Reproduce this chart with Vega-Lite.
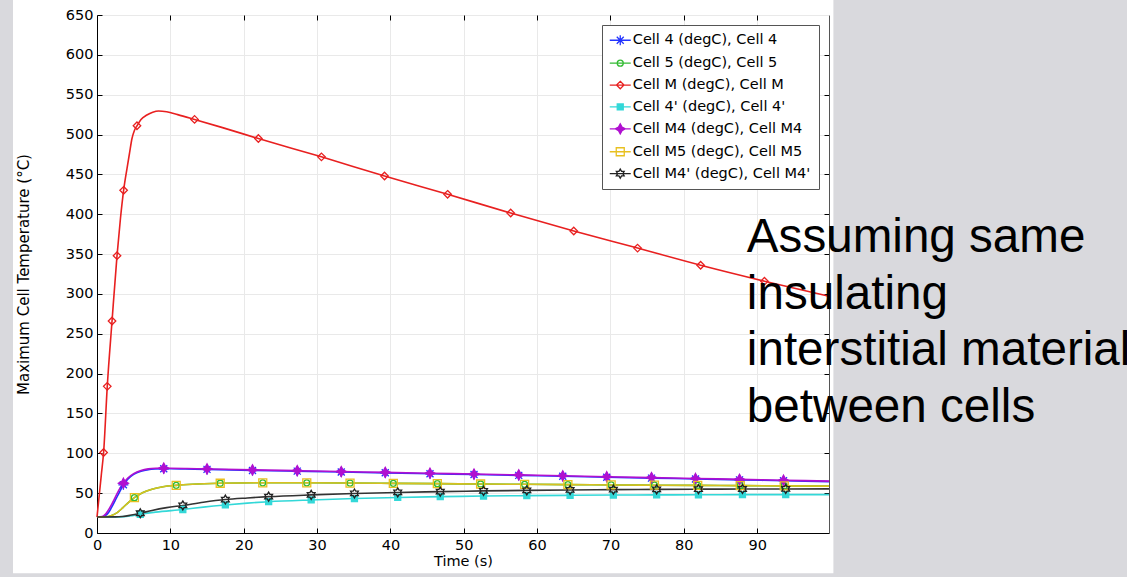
{
  "$schema": "https://vega.github.io/schema/vega-lite/v6.json",
  "width": 732,
  "height": 518,
  "autosize": {"type": "none"},
  "padding": {"left": 97, "top": 15, "right": 298, "bottom": 44},
  "background": "#ffffff",
  "config": {
    "view": {"stroke": "#555555", "strokeWidth": 1},
    "axis": {"labelFont": "DejaVu Sans", "titleFont": "DejaVu Sans", "labelColor": "#000", "titleColor": "#000", "titleFontWeight": "normal"}
  },
  "resolve": {"axis": {"x": "independent", "y": "independent"}},
  "datasets": {
    "curves": [
      {"s": "Cell 4 (degC), Cell 4", "t": 0, "v": 20}, {"s": "Cell 4 (degC), Cell 4", "t": 0.8, "v": 20.3}, {"s": "Cell 4 (degC), Cell 4", "t": 1.2, "v": 22}, {"s": "Cell 4 (degC), Cell 4", "t": 1.6, "v": 26}, {"s": "Cell 4 (degC), Cell 4", "t": 2.1, "v": 34}, {"s": "Cell 4 (degC), Cell 4", "t": 2.6, "v": 43}, {"s": "Cell 4 (degC), Cell 4", "t": 3.1, "v": 52}, {"s": "Cell 4 (degC), Cell 4", "t": 3.6, "v": 60.5}, {"s": "Cell 4 (degC), Cell 4", "t": 4.2, "v": 67.5}, {"s": "Cell 4 (degC), Cell 4", "t": 5, "v": 73.5}, {"s": "Cell 4 (degC), Cell 4", "t": 6, "v": 77.5}, {"s": "Cell 4 (degC), Cell 4", "t": 7, "v": 79.5}, {"s": "Cell 4 (degC), Cell 4", "t": 8, "v": 80.3}, {"s": "Cell 4 (degC), Cell 4", "t": 9.1, "v": 80.6}, {"s": "Cell 4 (degC), Cell 4", "t": 10, "v": 80.6}, {"s": "Cell 4 (degC), Cell 4", "t": 12, "v": 80.3}, {"s": "Cell 4 (degC), Cell 4", "t": 15, "v": 79.8}, {"s": "Cell 4 (degC), Cell 4", "t": 21.2, "v": 78.5}, {"s": "Cell 4 (degC), Cell 4", "t": 27.3, "v": 77.6}, {"s": "Cell 4 (degC), Cell 4", "t": 33.3, "v": 76.5}, {"s": "Cell 4 (degC), Cell 4", "t": 39.3, "v": 75.5}, {"s": "Cell 4 (degC), Cell 4", "t": 45.4, "v": 74.4}, {"s": "Cell 4 (degC), Cell 4", "t": 51.4, "v": 73.4}, {"s": "Cell 4 (degC), Cell 4", "t": 57.5, "v": 72.3}, {"s": "Cell 4 (degC), Cell 4", "t": 63.5, "v": 71.2}, {"s": "Cell 4 (degC), Cell 4", "t": 69.5, "v": 70}, {"s": "Cell 4 (degC), Cell 4", "t": 75.6, "v": 68.9}, {"s": "Cell 4 (degC), Cell 4", "t": 81.6, "v": 67.8}, {"s": "Cell 4 (degC), Cell 4", "t": 87.6, "v": 66.7}, {"s": "Cell 4 (degC), Cell 4", "t": 93.6, "v": 65.6}, {"s": "Cell 4 (degC), Cell 4", "t": 99.8, "v": 64.5},
      {"s": "Cell 5 (degC), Cell 5", "t": 0, "v": 20}, {"s": "Cell 5 (degC), Cell 5", "t": 1.2, "v": 20.3}, {"s": "Cell 5 (degC), Cell 5", "t": 2, "v": 22}, {"s": "Cell 5 (degC), Cell 5", "t": 2.8, "v": 26}, {"s": "Cell 5 (degC), Cell 5", "t": 3.5, "v": 31.5}, {"s": "Cell 5 (degC), Cell 5", "t": 4.3, "v": 38.5}, {"s": "Cell 5 (degC), Cell 5", "t": 5.1, "v": 44.3}, {"s": "Cell 5 (degC), Cell 5", "t": 6.2, "v": 50.5}, {"s": "Cell 5 (degC), Cell 5", "t": 7.5, "v": 55}, {"s": "Cell 5 (degC), Cell 5", "t": 9, "v": 58}, {"s": "Cell 5 (degC), Cell 5", "t": 10.8, "v": 59.8}, {"s": "Cell 5 (degC), Cell 5", "t": 13, "v": 61.2}, {"s": "Cell 5 (degC), Cell 5", "t": 16.8, "v": 62.4}, {"s": "Cell 5 (degC), Cell 5", "t": 22.6, "v": 63}, {"s": "Cell 5 (degC), Cell 5", "t": 28.6, "v": 63}, {"s": "Cell 5 (degC), Cell 5", "t": 34.5, "v": 62.7}, {"s": "Cell 5 (degC), Cell 5", "t": 40.4, "v": 62.3}, {"s": "Cell 5 (degC), Cell 5", "t": 46.4, "v": 61.9}, {"s": "Cell 5 (degC), Cell 5", "t": 52.3, "v": 61.5}, {"s": "Cell 5 (degC), Cell 5", "t": 58.3, "v": 61.1}, {"s": "Cell 5 (degC), Cell 5", "t": 64.2, "v": 60.7}, {"s": "Cell 5 (degC), Cell 5", "t": 70.1, "v": 60.3}, {"s": "Cell 5 (degC), Cell 5", "t": 76, "v": 60}, {"s": "Cell 5 (degC), Cell 5", "t": 81.9, "v": 59.7}, {"s": "Cell 5 (degC), Cell 5", "t": 87.7, "v": 59.4}, {"s": "Cell 5 (degC), Cell 5", "t": 93.7, "v": 59.1}, {"s": "Cell 5 (degC), Cell 5", "t": 99.8, "v": 58.8},
      {"s": "Cell M (degC), Cell M", "t": 0, "v": 20}, {"s": "Cell M (degC), Cell M", "t": 0.3, "v": 47}, {"s": "Cell M (degC), Cell M", "t": 0.6, "v": 74}, {"s": "Cell M (degC), Cell M", "t": 0.9, "v": 101}, {"s": "Cell M (degC), Cell M", "t": 1.4, "v": 184}, {"s": "Cell M (degC), Cell M", "t": 2.05, "v": 266}, {"s": "Cell M (degC), Cell M", "t": 2.73, "v": 348}, {"s": "Cell M (degC), Cell M", "t": 3.2, "v": 395}, {"s": "Cell M (degC), Cell M", "t": 3.63, "v": 430}, {"s": "Cell M (degC), Cell M", "t": 4.1, "v": 458}, {"s": "Cell M (degC), Cell M", "t": 4.44, "v": 477}, {"s": "Cell M (degC), Cell M", "t": 4.77, "v": 495}, {"s": "Cell M (degC), Cell M", "t": 5.1, "v": 505}, {"s": "Cell M (degC), Cell M", "t": 5.45, "v": 511}, {"s": "Cell M (degC), Cell M", "t": 6, "v": 519}, {"s": "Cell M (degC), Cell M", "t": 6.8, "v": 524.5}, {"s": "Cell M (degC), Cell M", "t": 7.6, "v": 528}, {"s": "Cell M (degC), Cell M", "t": 8.4, "v": 529.5}, {"s": "Cell M (degC), Cell M", "t": 9.5, "v": 528.5}, {"s": "Cell M (degC), Cell M", "t": 11, "v": 525}, {"s": "Cell M (degC), Cell M", "t": 13.3, "v": 519}, {"s": "Cell M (degC), Cell M", "t": 17, "v": 509}, {"s": "Cell M (degC), Cell M", "t": 22, "v": 495}, {"s": "Cell M (degC), Cell M", "t": 30.6, "v": 472}, {"s": "Cell M (degC), Cell M", "t": 39.2, "v": 448}, {"s": "Cell M (degC), Cell M", "t": 47.8, "v": 425}, {"s": "Cell M (degC), Cell M", "t": 56.4, "v": 401.5}, {"s": "Cell M (degC), Cell M", "t": 65, "v": 379}, {"s": "Cell M (degC), Cell M", "t": 73.7, "v": 357.5}, {"s": "Cell M (degC), Cell M", "t": 82.3, "v": 336}, {"s": "Cell M (degC), Cell M", "t": 91, "v": 316}, {"s": "Cell M (degC), Cell M", "t": 99.8, "v": 297},
      {"s": "Cell 4' (degC), Cell 4'", "t": 0, "v": 20}, {"s": "Cell 4' (degC), Cell 4'", "t": 3, "v": 20.2}, {"s": "Cell 4' (degC), Cell 4'", "t": 4.5, "v": 21.3}, {"s": "Cell 4' (degC), Cell 4'", "t": 5.9, "v": 23.5}, {"s": "Cell 4' (degC), Cell 4'", "t": 8, "v": 26.2}, {"s": "Cell 4' (degC), Cell 4'", "t": 11.7, "v": 29.5}, {"s": "Cell 4' (degC), Cell 4'", "t": 14.5, "v": 32.5}, {"s": "Cell 4' (degC), Cell 4'", "t": 17.5, "v": 35.2}, {"s": "Cell 4' (degC), Cell 4'", "t": 20.5, "v": 37.5}, {"s": "Cell 4' (degC), Cell 4'", "t": 23.4, "v": 39.3}, {"s": "Cell 4' (degC), Cell 4'", "t": 29.2, "v": 41.5}, {"s": "Cell 4' (degC), Cell 4'", "t": 35.1, "v": 43.2}, {"s": "Cell 4' (degC), Cell 4'", "t": 41, "v": 44.6}, {"s": "Cell 4' (degC), Cell 4'", "t": 46.8, "v": 45.6}, {"s": "Cell 4' (degC), Cell 4'", "t": 52.7, "v": 46.4}, {"s": "Cell 4' (degC), Cell 4'", "t": 58.6, "v": 46.9}, {"s": "Cell 4' (degC), Cell 4'", "t": 64.5, "v": 47.3}, {"s": "Cell 4' (degC), Cell 4'", "t": 70.4, "v": 47.6}, {"s": "Cell 4' (degC), Cell 4'", "t": 76.3, "v": 47.8}, {"s": "Cell 4' (degC), Cell 4'", "t": 82, "v": 48}, {"s": "Cell 4' (degC), Cell 4'", "t": 88, "v": 48.1}, {"s": "Cell 4' (degC), Cell 4'", "t": 93.9, "v": 48.2}, {"s": "Cell 4' (degC), Cell 4'", "t": 99.8, "v": 48.2},
      {"s": "Cell M4 (degC), Cell M4", "t": 0, "v": 20}, {"s": "Cell M4 (degC), Cell M4", "t": 0.7, "v": 20.5}, {"s": "Cell M4 (degC), Cell M4", "t": 1.1, "v": 23}, {"s": "Cell M4 (degC), Cell M4", "t": 1.5, "v": 28}, {"s": "Cell M4 (degC), Cell M4", "t": 2, "v": 36}, {"s": "Cell M4 (degC), Cell M4", "t": 2.5, "v": 45}, {"s": "Cell M4 (degC), Cell M4", "t": 3, "v": 54}, {"s": "Cell M4 (degC), Cell M4", "t": 3.6, "v": 62.5}, {"s": "Cell M4 (degC), Cell M4", "t": 4.2, "v": 69}, {"s": "Cell M4 (degC), Cell M4", "t": 5, "v": 74.5}, {"s": "Cell M4 (degC), Cell M4", "t": 6, "v": 78.5}, {"s": "Cell M4 (degC), Cell M4", "t": 7, "v": 80.5}, {"s": "Cell M4 (degC), Cell M4", "t": 8, "v": 81.2}, {"s": "Cell M4 (degC), Cell M4", "t": 9.1, "v": 81.4}, {"s": "Cell M4 (degC), Cell M4", "t": 10, "v": 81.3}, {"s": "Cell M4 (degC), Cell M4", "t": 12, "v": 81}, {"s": "Cell M4 (degC), Cell M4", "t": 15, "v": 80.4}, {"s": "Cell M4 (degC), Cell M4", "t": 21.2, "v": 79.2}, {"s": "Cell M4 (degC), Cell M4", "t": 27.3, "v": 78.2}, {"s": "Cell M4 (degC), Cell M4", "t": 33.3, "v": 77.1}, {"s": "Cell M4 (degC), Cell M4", "t": 39.3, "v": 76.1}, {"s": "Cell M4 (degC), Cell M4", "t": 45.4, "v": 75}, {"s": "Cell M4 (degC), Cell M4", "t": 51.4, "v": 74}, {"s": "Cell M4 (degC), Cell M4", "t": 57.5, "v": 72.9}, {"s": "Cell M4 (degC), Cell M4", "t": 63.5, "v": 71.8}, {"s": "Cell M4 (degC), Cell M4", "t": 69.5, "v": 70.6}, {"s": "Cell M4 (degC), Cell M4", "t": 75.6, "v": 69.5}, {"s": "Cell M4 (degC), Cell M4", "t": 81.6, "v": 68.4}, {"s": "Cell M4 (degC), Cell M4", "t": 87.6, "v": 67.3}, {"s": "Cell M4 (degC), Cell M4", "t": 93.6, "v": 66.2}, {"s": "Cell M4 (degC), Cell M4", "t": 99.8, "v": 65.1},
      {"s": "Cell M5 (degC), Cell M5", "t": 0, "v": 20}, {"s": "Cell M5 (degC), Cell M5", "t": 1.2, "v": 20.3}, {"s": "Cell M5 (degC), Cell M5", "t": 2, "v": 22}, {"s": "Cell M5 (degC), Cell M5", "t": 2.8, "v": 26}, {"s": "Cell M5 (degC), Cell M5", "t": 3.5, "v": 31.5}, {"s": "Cell M5 (degC), Cell M5", "t": 4.3, "v": 38.5}, {"s": "Cell M5 (degC), Cell M5", "t": 5.1, "v": 44.3}, {"s": "Cell M5 (degC), Cell M5", "t": 6.2, "v": 50.5}, {"s": "Cell M5 (degC), Cell M5", "t": 7.5, "v": 55}, {"s": "Cell M5 (degC), Cell M5", "t": 9, "v": 58}, {"s": "Cell M5 (degC), Cell M5", "t": 10.8, "v": 59.8}, {"s": "Cell M5 (degC), Cell M5", "t": 13, "v": 61.2}, {"s": "Cell M5 (degC), Cell M5", "t": 16.8, "v": 62.4}, {"s": "Cell M5 (degC), Cell M5", "t": 22.6, "v": 63}, {"s": "Cell M5 (degC), Cell M5", "t": 28.6, "v": 63}, {"s": "Cell M5 (degC), Cell M5", "t": 34.5, "v": 62.7}, {"s": "Cell M5 (degC), Cell M5", "t": 40.4, "v": 62.3}, {"s": "Cell M5 (degC), Cell M5", "t": 46.4, "v": 61.9}, {"s": "Cell M5 (degC), Cell M5", "t": 52.3, "v": 61.5}, {"s": "Cell M5 (degC), Cell M5", "t": 58.3, "v": 61.1}, {"s": "Cell M5 (degC), Cell M5", "t": 64.2, "v": 60.7}, {"s": "Cell M5 (degC), Cell M5", "t": 70.1, "v": 60.3}, {"s": "Cell M5 (degC), Cell M5", "t": 76, "v": 60}, {"s": "Cell M5 (degC), Cell M5", "t": 81.9, "v": 59.7}, {"s": "Cell M5 (degC), Cell M5", "t": 87.7, "v": 59.4}, {"s": "Cell M5 (degC), Cell M5", "t": 93.7, "v": 59.1}, {"s": "Cell M5 (degC), Cell M5", "t": 99.8, "v": 58.8},
      {"s": "Cell M4' (degC), Cell M4'", "t": 0, "v": 20}, {"s": "Cell M4' (degC), Cell M4'", "t": 2.5, "v": 20.2}, {"s": "Cell M4' (degC), Cell M4'", "t": 3.5, "v": 20.8}, {"s": "Cell M4' (degC), Cell M4'", "t": 4.5, "v": 22.2}, {"s": "Cell M4' (degC), Cell M4'", "t": 5.9, "v": 24.8}, {"s": "Cell M4' (degC), Cell M4'", "t": 7.5, "v": 28.3}, {"s": "Cell M4' (degC), Cell M4'", "t": 9.5, "v": 31.8}, {"s": "Cell M4' (degC), Cell M4'", "t": 11.7, "v": 34.6}, {"s": "Cell M4' (degC), Cell M4'", "t": 14.5, "v": 38.6}, {"s": "Cell M4' (degC), Cell M4'", "t": 17.5, "v": 42}, {"s": "Cell M4' (degC), Cell M4'", "t": 20.5, "v": 44}, {"s": "Cell M4' (degC), Cell M4'", "t": 23.4, "v": 45.6}, {"s": "Cell M4' (degC), Cell M4'", "t": 29.2, "v": 47.8}, {"s": "Cell M4' (degC), Cell M4'", "t": 35.1, "v": 49.6}, {"s": "Cell M4' (degC), Cell M4'", "t": 41, "v": 50.9}, {"s": "Cell M4' (degC), Cell M4'", "t": 46.8, "v": 51.9}, {"s": "Cell M4' (degC), Cell M4'", "t": 52.7, "v": 52.8}, {"s": "Cell M4' (degC), Cell M4'", "t": 58.6, "v": 53.5}, {"s": "Cell M4' (degC), Cell M4'", "t": 64.5, "v": 54}, {"s": "Cell M4' (degC), Cell M4'", "t": 70.4, "v": 54.4}, {"s": "Cell M4' (degC), Cell M4'", "t": 76.3, "v": 54.8}, {"s": "Cell M4' (degC), Cell M4'", "t": 82, "v": 55}, {"s": "Cell M4' (degC), Cell M4'", "t": 88, "v": 55.2}, {"s": "Cell M4' (degC), Cell M4'", "t": 93.9, "v": 55.3}, {"s": "Cell M4' (degC), Cell M4'", "t": 99.8, "v": 55.4}
    ],
    "markers": [
      {"s": "Cell 4 (degC), Cell 4", "t": 3.6, "v": 60.5}, {"s": "Cell 4 (degC), Cell 4", "t": 9.1, "v": 80.6}, {"s": "Cell 4 (degC), Cell 4", "t": 15, "v": 79.8}, {"s": "Cell 4 (degC), Cell 4", "t": 21.2, "v": 78.5}, {"s": "Cell 4 (degC), Cell 4", "t": 27.3, "v": 77.6}, {"s": "Cell 4 (degC), Cell 4", "t": 33.3, "v": 76.5}, {"s": "Cell 4 (degC), Cell 4", "t": 39.3, "v": 75.5}, {"s": "Cell 4 (degC), Cell 4", "t": 45.4, "v": 74.4}, {"s": "Cell 4 (degC), Cell 4", "t": 51.4, "v": 73.4}, {"s": "Cell 4 (degC), Cell 4", "t": 57.5, "v": 72.3}, {"s": "Cell 4 (degC), Cell 4", "t": 63.5, "v": 71.2}, {"s": "Cell 4 (degC), Cell 4", "t": 69.5, "v": 70}, {"s": "Cell 4 (degC), Cell 4", "t": 75.6, "v": 68.9}, {"s": "Cell 4 (degC), Cell 4", "t": 81.6, "v": 67.8}, {"s": "Cell 4 (degC), Cell 4", "t": 87.6, "v": 66.7}, {"s": "Cell 4 (degC), Cell 4", "t": 93.6, "v": 65.6},
      {"s": "Cell 5 (degC), Cell 5", "t": 5.1, "v": 44.3}, {"s": "Cell 5 (degC), Cell 5", "t": 10.8, "v": 59.8}, {"s": "Cell 5 (degC), Cell 5", "t": 16.8, "v": 62.4}, {"s": "Cell 5 (degC), Cell 5", "t": 22.6, "v": 63}, {"s": "Cell 5 (degC), Cell 5", "t": 28.6, "v": 63}, {"s": "Cell 5 (degC), Cell 5", "t": 34.5, "v": 62.7}, {"s": "Cell 5 (degC), Cell 5", "t": 40.4, "v": 62.3}, {"s": "Cell 5 (degC), Cell 5", "t": 46.4, "v": 61.9}, {"s": "Cell 5 (degC), Cell 5", "t": 52.3, "v": 61.5}, {"s": "Cell 5 (degC), Cell 5", "t": 58.3, "v": 61.1}, {"s": "Cell 5 (degC), Cell 5", "t": 64.2, "v": 60.7}, {"s": "Cell 5 (degC), Cell 5", "t": 70.1, "v": 60.3}, {"s": "Cell 5 (degC), Cell 5", "t": 76, "v": 60}, {"s": "Cell 5 (degC), Cell 5", "t": 81.9, "v": 59.7}, {"s": "Cell 5 (degC), Cell 5", "t": 87.7, "v": 59.4}, {"s": "Cell 5 (degC), Cell 5", "t": 93.7, "v": 59.1},
      {"s": "Cell M (degC), Cell M", "t": 0.9, "v": 101}, {"s": "Cell M (degC), Cell M", "t": 1.4, "v": 184}, {"s": "Cell M (degC), Cell M", "t": 2.05, "v": 266}, {"s": "Cell M (degC), Cell M", "t": 2.73, "v": 348}, {"s": "Cell M (degC), Cell M", "t": 3.63, "v": 430}, {"s": "Cell M (degC), Cell M", "t": 5.45, "v": 511}, {"s": "Cell M (degC), Cell M", "t": 13.3, "v": 519}, {"s": "Cell M (degC), Cell M", "t": 22, "v": 495}, {"s": "Cell M (degC), Cell M", "t": 30.6, "v": 472}, {"s": "Cell M (degC), Cell M", "t": 39.2, "v": 448}, {"s": "Cell M (degC), Cell M", "t": 47.8, "v": 425}, {"s": "Cell M (degC), Cell M", "t": 56.4, "v": 401.5}, {"s": "Cell M (degC), Cell M", "t": 65, "v": 379}, {"s": "Cell M (degC), Cell M", "t": 73.7, "v": 357.5}, {"s": "Cell M (degC), Cell M", "t": 82.3, "v": 336}, {"s": "Cell M (degC), Cell M", "t": 91, "v": 316},
      {"s": "Cell 4' (degC), Cell 4'", "t": 5.9, "v": 23.5}, {"s": "Cell 4' (degC), Cell 4'", "t": 11.7, "v": 29.5}, {"s": "Cell 4' (degC), Cell 4'", "t": 17.5, "v": 35.2}, {"s": "Cell 4' (degC), Cell 4'", "t": 23.4, "v": 39.3}, {"s": "Cell 4' (degC), Cell 4'", "t": 29.2, "v": 41.5}, {"s": "Cell 4' (degC), Cell 4'", "t": 35.1, "v": 43.2}, {"s": "Cell 4' (degC), Cell 4'", "t": 41, "v": 44.6}, {"s": "Cell 4' (degC), Cell 4'", "t": 46.8, "v": 45.6}, {"s": "Cell 4' (degC), Cell 4'", "t": 52.7, "v": 46.4}, {"s": "Cell 4' (degC), Cell 4'", "t": 58.6, "v": 46.9}, {"s": "Cell 4' (degC), Cell 4'", "t": 64.5, "v": 47.3}, {"s": "Cell 4' (degC), Cell 4'", "t": 70.4, "v": 47.6}, {"s": "Cell 4' (degC), Cell 4'", "t": 76.3, "v": 47.8}, {"s": "Cell 4' (degC), Cell 4'", "t": 82, "v": 48}, {"s": "Cell 4' (degC), Cell 4'", "t": 88, "v": 48.1}, {"s": "Cell 4' (degC), Cell 4'", "t": 93.9, "v": 48.2},
      {"s": "Cell M4 (degC), Cell M4", "t": 3.6, "v": 62.5}, {"s": "Cell M4 (degC), Cell M4", "t": 9.1, "v": 81.4}, {"s": "Cell M4 (degC), Cell M4", "t": 15, "v": 80.4}, {"s": "Cell M4 (degC), Cell M4", "t": 21.2, "v": 79.2}, {"s": "Cell M4 (degC), Cell M4", "t": 27.3, "v": 78.2}, {"s": "Cell M4 (degC), Cell M4", "t": 33.3, "v": 77.1}, {"s": "Cell M4 (degC), Cell M4", "t": 39.3, "v": 76.1}, {"s": "Cell M4 (degC), Cell M4", "t": 45.4, "v": 75}, {"s": "Cell M4 (degC), Cell M4", "t": 51.4, "v": 74}, {"s": "Cell M4 (degC), Cell M4", "t": 57.5, "v": 72.9}, {"s": "Cell M4 (degC), Cell M4", "t": 63.5, "v": 71.8}, {"s": "Cell M4 (degC), Cell M4", "t": 69.5, "v": 70.6}, {"s": "Cell M4 (degC), Cell M4", "t": 75.6, "v": 69.5}, {"s": "Cell M4 (degC), Cell M4", "t": 81.6, "v": 68.4}, {"s": "Cell M4 (degC), Cell M4", "t": 87.6, "v": 67.3}, {"s": "Cell M4 (degC), Cell M4", "t": 93.6, "v": 66.2},
      {"s": "Cell M5 (degC), Cell M5", "t": 5.1, "v": 44.3}, {"s": "Cell M5 (degC), Cell M5", "t": 10.8, "v": 59.8}, {"s": "Cell M5 (degC), Cell M5", "t": 16.8, "v": 62.4}, {"s": "Cell M5 (degC), Cell M5", "t": 22.6, "v": 63}, {"s": "Cell M5 (degC), Cell M5", "t": 28.6, "v": 63}, {"s": "Cell M5 (degC), Cell M5", "t": 34.5, "v": 62.7}, {"s": "Cell M5 (degC), Cell M5", "t": 40.4, "v": 62.3}, {"s": "Cell M5 (degC), Cell M5", "t": 46.4, "v": 61.9}, {"s": "Cell M5 (degC), Cell M5", "t": 52.3, "v": 61.5}, {"s": "Cell M5 (degC), Cell M5", "t": 58.3, "v": 61.1}, {"s": "Cell M5 (degC), Cell M5", "t": 64.2, "v": 60.7}, {"s": "Cell M5 (degC), Cell M5", "t": 70.1, "v": 60.3}, {"s": "Cell M5 (degC), Cell M5", "t": 76, "v": 60}, {"s": "Cell M5 (degC), Cell M5", "t": 81.9, "v": 59.7}, {"s": "Cell M5 (degC), Cell M5", "t": 87.7, "v": 59.4}, {"s": "Cell M5 (degC), Cell M5", "t": 93.7, "v": 59.1},
      {"s": "Cell M4' (degC), Cell M4'", "t": 5.9, "v": 24.8}, {"s": "Cell M4' (degC), Cell M4'", "t": 11.7, "v": 34.6}, {"s": "Cell M4' (degC), Cell M4'", "t": 17.5, "v": 42}, {"s": "Cell M4' (degC), Cell M4'", "t": 23.4, "v": 45.6}, {"s": "Cell M4' (degC), Cell M4'", "t": 29.2, "v": 47.8}, {"s": "Cell M4' (degC), Cell M4'", "t": 35.1, "v": 49.6}, {"s": "Cell M4' (degC), Cell M4'", "t": 41, "v": 50.9}, {"s": "Cell M4' (degC), Cell M4'", "t": 46.8, "v": 51.9}, {"s": "Cell M4' (degC), Cell M4'", "t": 52.7, "v": 52.8}, {"s": "Cell M4' (degC), Cell M4'", "t": 58.6, "v": 53.5}, {"s": "Cell M4' (degC), Cell M4'", "t": 64.5, "v": 54}, {"s": "Cell M4' (degC), Cell M4'", "t": 70.4, "v": 54.4}, {"s": "Cell M4' (degC), Cell M4'", "t": 76.3, "v": 54.8}, {"s": "Cell M4' (degC), Cell M4'", "t": 82, "v": 55}, {"s": "Cell M4' (degC), Cell M4'", "t": 88, "v": 55.2}, {"s": "Cell M4' (degC), Cell M4'", "t": 93.9, "v": 55.3}
    ]
  },
  "layer": [
    {
      "data": {"values": [{}]},
      "mark": {"type": "rect", "color": "#d9d9dd", "clip": false},
      "encoding": {
        "x": {"datum": 100.4, "type": "quantitative", "axis": null},
        "x2": {"datum": 141},
        "y": {"datum": 680, "type": "quantitative", "axis": null},
        "y2": {"datum": -60}
      }
    },
    {
      "data": {"values": [{}]},
      "mark": {"type": "rect", "color": "#d9d9dd", "clip": false},
      "encoding": {
        "x": {"datum": -14, "type": "quantitative", "axis": null},
        "x2": {"datum": -11.45},
        "y": {"datum": 680, "type": "quantitative", "axis": null},
        "y2": {"datum": -60}
      }
    },
    {
      "data": {"values": [{}]},
      "mark": {"type": "rect", "color": "#d9d9dd", "clip": false},
      "encoding": {
        "x": {"datum": -14, "type": "quantitative", "axis": null},
        "x2": {"datum": 101},
        "y": {"datum": -50.5, "type": "quantitative", "axis": null},
        "y2": {"datum": -60}
      }
    },
    {
      "data": {"name": "curves"},
      "mark": {"type": "line", "interpolate": "monotone", "strokeWidth": 1.6},
      "encoding": {
        "x": {
          "field": "t", "type": "quantitative",
          "scale": {"domain": [0, 99.8], "nice": false, "zero": false},
          "axis": {"values": [0, 10, 20, 30, 40, 50, 60, 70, 80, 90], "grid": true, "gridColor": "#e9e9e9", "domainColor": "#000", "tickColor": "#000", "tickSize": -5, "labelFontSize": 14.5, "labelPadding": 10, "labelFlush": false, "title": "Time (s)", "titleFontSize": 14.5, "titlePadding": 3}
        },
        "y": {
          "field": "v", "type": "quantitative",
          "scale": {"domain": [0, 650], "nice": false, "zero": false},
          "axis": {"values": [0, 50, 100, 150, 200, 250, 300, 350, 400, 450, 500, 550, 600, 650], "grid": true, "gridColor": "#e9e9e9", "domainColor": "#000", "tickColor": "#000", "tickSize": -5, "labelFontSize": 14.5, "labelPadding": 9, "labelFlush": false, "title": "Maximum Cell Temperature (°C)", "titleFontSize": 15, "titlePadding": 34}
        },
        "color": {
          "field": "s", "type": "nominal", "legend": null,
          "scale": {
            "domain": ["Cell M4' (degC), Cell M4'", "Cell M5 (degC), Cell M5", "Cell M4 (degC), Cell M4", "Cell 4' (degC), Cell 4'", "Cell M (degC), Cell M", "Cell 5 (degC), Cell 5", "Cell 4 (degC), Cell 4"],
            "range": ["#333333", "#d8c020", "#b010d0", "#33d8d8", "#e82020", "#33bb33", "#2233ff"]
          }
        }
      }
    },
    {
      "data": {"name": "markers"},
      "mark": {"type": "point", "filled": false, "strokeWidth": 1.3, "size": 100, "opacity": 1},
      "encoding": {
        "x": {"field": "t", "type": "quantitative", "axis": {"orient": "top", "labels": false, "grid": false, "domain": false, "title": null, "tickColor": "#000", "tickSize": -5, "values": [10, 20, 30, 40, 50, 60, 70, 80, 90]}},
        "y": {"field": "v", "type": "quantitative", "axis": {"orient": "right", "labels": false, "grid": false, "domain": false, "title": null, "tickColor": "#000", "tickSize": -5, "values": [50, 100, 150, 200, 250, 300, 350, 400, 450, 500, 550, 600]}},
        "stroke": {
          "field": "s", "type": "nominal",
          "scale": {
            "domain": ["Cell 4 (degC), Cell 4", "Cell 5 (degC), Cell 5", "Cell M (degC), Cell M", "Cell 4' (degC), Cell 4'", "Cell M4 (degC), Cell M4", "Cell M5 (degC), Cell M5", "Cell M4' (degC), Cell M4'"],
            "range": ["#2233ff", "#33bb33", "#e82020", "#33d8d8", "#b010d0", "#e8c020", "#222222"]
          },
          "legend": {
            "orient": "none", "legendX": 505, "legendY": 10, "title": null,
            "fillColor": "#ffffff", "strokeColor": "#555555", "padding": 8, "rowPadding": 6.9,
            "labelFont": "DejaVu Sans", "labelFontSize": 14.5, "labelColor": "#000", "labelLimit": 400,
            "symbolSize": 100, "symbolStrokeWidth": 1.3, "symbolOffset": 3, "labelOffset": 5.3,
            "encoding": {
              "symbols": {
                "shape": {"value": {"expr": "'M-2.1,0L2.1,0 ' + scale('shape', datum.value)"}},
                "fill": {"value": {"expr": "scale('fill', datum.value)"}},
                "stroke": {"value": {"expr": "scale('stroke', datum.value)"}},
                "opacity": {"value": 1}
              }
            }
          }
        },
        "fill": {
          "field": "s", "type": "nominal", "legend": null,
          "scale": {
            "domain": ["Cell M4' (degC), Cell M4'", "Cell M5 (degC), Cell M5", "Cell M4 (degC), Cell M4", "Cell 4' (degC), Cell 4'", "Cell M (degC), Cell M", "Cell 5 (degC), Cell 5", "Cell 4 (degC), Cell 4"],
            "range": ["transparent", "transparent", "#b010d0", "#33d8d8", "transparent", "transparent", "transparent"]
          }
        },
        "shape": {
          "field": "s", "type": "nominal", "legend": null,
          "scale": {
            "domain": ["Cell M4' (degC), Cell M4'", "Cell M5 (degC), Cell M5", "Cell M4 (degC), Cell M4", "Cell 4' (degC), Cell 4'", "Cell M (degC), Cell M", "Cell 5 (degC), Cell 5", "Cell 4 (degC), Cell 4"],
            "range": [
              "M0,-0.9L0.26,-0.45L0.78,-0.45L0.52,0L0.78,0.45L0.26,0.45L0,0.9L-0.26,0.45L-0.78,0.45L-0.52,0L-0.78,-0.45L-0.26,-0.45Z",
              "M-0.8,-0.8L0.8,-0.8L0.8,0.8L-0.8,0.8Z",
              "M0,-1L0.35,-0.35L1,0L0.35,0.35L0,1L-0.35,0.35L-1,0L-0.35,-0.35Z",
              "M-0.6,-0.6L0.6,-0.6L0.6,0.6L-0.6,0.6Z",
              "M0,-0.75L0.75,0L0,0.75L-0.75,0Z",
              "M0.6,0A0.6,0.6,0,1,1,-0.6,0A0.6,0.6,0,1,1,0.6,0Z",
              "M-1,0L1,0M0,-1L0,1M-0.7,-0.7L0.7,0.7M-0.7,0.7L0.7,-0.7"
            ]
          }
        }
      }
    },
    {
      "data": {"values": [{}]},
      "mark": {"type": "text", "align": "left", "baseline": "alphabetic", "font": "Liberation Sans", "fontSize": 47.6, "lineHeight": 56.5, "lineBreak": "\n", "color": "#000", "clip": false},
      "encoding": {
        "x": {"datum": 88.6, "type": "quantitative", "axis": null},
        "y": {"datum": 352.3, "type": "quantitative", "axis": null},
        "text": {"value": "Assuming same\ninsulating\ninterstitial material\nbetween cells"}
      }
    }
  ]
}
